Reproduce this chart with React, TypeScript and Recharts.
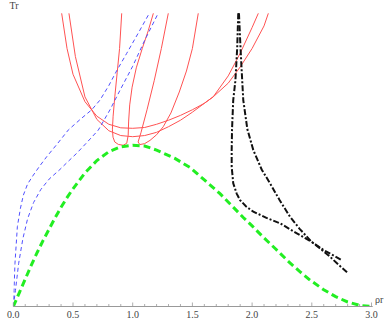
import React from 'react';
import { LineChart, Line, XAxis, YAxis } from 'recharts';

const xTicks = [0, 0.1, 0.2, 0.3, 0.4, 0.5, 0.6, 0.7, 0.8, 0.9, 1.0, 1.1, 1.2, 1.3, 1.4, 1.5, 1.6, 1.7, 1.8, 1.9, 2.0, 2.1, 2.2, 2.3, 2.4, 2.5, 2.6, 2.7, 2.8, 2.9, 3.0];
const yTicks = [0, 0.1, 0.2, 0.3, 0.4, 0.5, 0.6, 0.7, 0.8, 0.9, 1.0, 1.1, 1.2, 1.3, 1.4, 1.5, 1.6, 1.7, 1.8];
const majorTicks = [0, 0.5, 1.0, 1.5, 2.0, 2.5, 3.0];

const green = [
  { x: 0, y: 0 }, { x: 0.05, y: 0.085 }, { x: 0.1, y: 0.17 }, { x: 0.15, y: 0.255 }, { x: 0.2, y: 0.335 },
  { x: 0.25, y: 0.41 }, { x: 0.3, y: 0.48 }, { x: 0.35, y: 0.55 }, { x: 0.4, y: 0.615 }, { x: 0.45, y: 0.675 },
  { x: 0.5, y: 0.73 }, { x: 0.6, y: 0.828 }, { x: 0.7, y: 0.905 }, { x: 0.8, y: 0.96 }, { x: 0.9, y: 0.99 },
  { x: 1.0, y: 1.0 }, { x: 1.1, y: 0.995 }, { x: 1.2, y: 0.97 }, { x: 1.35, y: 0.92 }, { x: 1.48, y: 0.862 },
  { x: 1.6, y: 0.785 }, { x: 1.731, y: 0.7 }, { x: 1.85, y: 0.61 }, { x: 1.926, y: 0.552 }, { x: 2.0, y: 0.5 },
  { x: 2.1, y: 0.425 }, { x: 2.2, y: 0.355 }, { x: 2.3, y: 0.282 }, { x: 2.4, y: 0.216 }, { x: 2.485, y: 0.164 },
  { x: 2.6, y: 0.104 }, { x: 2.7, y: 0.061 }, { x: 2.8, y: 0.028 }, { x: 2.9, y: 0.007 }, { x: 3.0, y: 0 },
];

const blueUpper = [
  { x: 0, y: 0 }, { x: 0.006, y: 0.1 }, { x: 0.014, y: 0.268 }, { x: 0.034, y: 0.495 }, { x: 0.06, y: 0.61 },
  { x: 0.084, y: 0.69 }, { x: 0.12, y: 0.76 }, { x: 0.168, y: 0.815 }, { x: 0.22, y: 0.87 }, { x: 0.28, y: 0.929 },
  { x: 0.37, y: 1.01 }, { x: 0.46, y: 1.094 }, { x: 0.56, y: 1.16 }, { x: 0.657, y: 1.22 }, { x: 0.726, y: 1.28 },
  { x: 0.8, y: 1.37 }, { x: 0.866, y: 1.462 }, { x: 0.95, y: 1.57 }, { x: 1.05, y: 1.7 }, { x: 1.139, y: 1.818 },
];

const blueLower = [
  { x: 0, y: 0 }, { x: 0.018, y: 0.1 }, { x: 0.045, y: 0.268 }, { x: 0.08, y: 0.42 }, { x: 0.12, y: 0.545 },
  { x: 0.17, y: 0.645 }, { x: 0.23, y: 0.725 }, { x: 0.3, y: 0.79 }, { x: 0.391, y: 0.85 }, { x: 0.46, y: 0.9 },
  { x: 0.531, y: 0.95 }, { x: 0.62, y: 1.02 }, { x: 0.712, y: 1.094 }, { x: 0.81, y: 1.22 }, { x: 0.9, y: 1.35 },
  { x: 1.0, y: 1.49 }, { x: 1.1, y: 1.65 }, { x: 1.206, y: 1.807 },
];

const redWideLow = [
  { x: 0.466, y: 1.818 }, { x: 0.52, y: 1.55 }, { x: 0.6, y: 1.3 }, { x: 0.7, y: 1.16 }, { x: 0.8, y: 1.09 },
  { x: 0.9, y: 1.06 }, { x: 1.0, y: 1.053 }, { x: 1.1, y: 1.06 }, { x: 1.2, y: 1.08 }, { x: 1.3, y: 1.115 },
  { x: 1.4, y: 1.155 }, { x: 1.5, y: 1.205 }, { x: 1.6, y: 1.26 }, { x: 1.674, y: 1.3 }, { x: 1.8, y: 1.43 },
  { x: 1.9, y: 1.57 }, { x: 2.0, y: 1.73 }, { x: 2.052, y: 1.818 },
];

const redWideHigh = [
  { x: 0.405, y: 1.818 }, { x: 0.45, y: 1.6 }, { x: 0.5, y: 1.44 }, { x: 0.6, y: 1.27 }, { x: 0.7, y: 1.18 },
  { x: 0.8, y: 1.13 }, { x: 0.9, y: 1.108 }, { x: 1.0, y: 1.105 }, { x: 1.1, y: 1.11 }, { x: 1.2, y: 1.13 },
  { x: 1.3, y: 1.155 }, { x: 1.4, y: 1.185 }, { x: 1.5, y: 1.22 }, { x: 1.6, y: 1.26 }, { x: 1.674, y: 1.3 },
  { x: 1.8, y: 1.385 }, { x: 1.9, y: 1.485 }, { x: 2.0, y: 1.6 }, { x: 2.1, y: 1.74 }, { x: 2.136, y: 1.818 },
];

const redNarrow1 = [
  { x: 0.908, y: 1.818 }, { x: 0.89, y: 1.6 }, { x: 0.87, y: 1.45 }, { x: 0.85, y: 1.3 }, { x: 0.836, y: 1.18 },
  { x: 0.83, y: 1.1 }, { x: 0.835, y: 1.05 }, { x: 0.85, y: 1.02 }, { x: 0.88, y: 1.005 }, { x: 0.92, y: 1.0 },
  { x: 0.95, y: 1.012 }, { x: 0.962, y: 1.06 }, { x: 0.966, y: 1.15 }, { x: 0.975, y: 1.25 }, { x: 0.995, y: 1.36 },
  { x: 1.03, y: 1.48 }, { x: 1.08, y: 1.6 }, { x: 1.13, y: 1.71 }, { x: 1.173, y: 1.818 },
];

const redNarrow2 = [
  { x: 1.298, y: 1.818 }, { x: 1.24, y: 1.6 }, { x: 1.18, y: 1.4 }, { x: 1.12, y: 1.22 }, { x: 1.07, y: 1.08 },
  { x: 1.045, y: 1.02 }, { x: 1.06, y: 1.004 }, { x: 1.1, y: 1.01 }, { x: 1.145, y: 1.03 }, { x: 1.2, y: 1.065 },
  { x: 1.256, y: 1.115 }, { x: 1.32, y: 1.2 }, { x: 1.39, y: 1.33 }, { x: 1.45, y: 1.46 }, { x: 1.5, y: 1.6 },
  { x: 1.549, y: 1.818 },
];

const blackLeft = [
  { x: 1.884, y: 1.818 }, { x: 1.875, y: 1.6 }, { x: 1.86, y: 1.4 }, { x: 1.842, y: 1.28 }, { x: 1.832, y: 1.1 },
  { x: 1.829, y: 0.97 }, { x: 1.829, y: 0.867 }, { x: 1.842, y: 0.764 }, { x: 1.871, y: 0.7 }, { x: 1.899, y: 0.66 },
  { x: 1.95, y: 0.62 }, { x: 2.01, y: 0.588 }, { x: 2.12, y: 0.55 }, { x: 2.234, y: 0.516 }, { x: 2.36, y: 0.46 },
  { x: 2.5, y: 0.4 }, { x: 2.6, y: 0.35 }, { x: 2.75, y: 0.288 },
];

const blackRight = [
  { x: 1.89, y: 1.818 }, { x: 1.9, y: 1.65 }, { x: 1.91, y: 1.5 }, { x: 1.926, y: 1.28 }, { x: 1.96, y: 1.1 },
  { x: 2.01, y: 0.97 }, { x: 2.08, y: 0.85 }, { x: 2.15, y: 0.764 }, { x: 2.23, y: 0.66 }, { x: 2.317, y: 0.557 },
  { x: 2.4, y: 0.48 }, { x: 2.5, y: 0.4 }, { x: 2.57, y: 0.36 }, { x: 2.652, y: 0.309 }, { x: 2.73, y: 0.255 },
  { x: 2.806, y: 0.206 },
];

const FONT = '"Liberation Serif", "Times New Roman", serif';

const isMajor = (v: number) => majorTicks.some((m) => Math.abs(m - v) < 1e-6);

const XTick = (props: any) => {
  const { x, y, payload } = props;
  const v = payload.value;
  const major = isMajor(v);
  return (
    <g>
      <line x1={x} y1={y} x2={x} y2={y - (major ? 4 : 2.5)} stroke="#999" strokeWidth={0.8} />
      {major && (
        <text x={x} y={y + 11} textAnchor="middle" fontSize={10} fontFamily={FONT} fill="#444">
          {v.toFixed(1)}
        </text>
      )}
    </g>
  );
};

const YTick = (props: any) => {
  const { x, y, payload } = props;
  const v = payload.value;
  const major = isMajor(v);
  return (
    <g>
      <line x1={x} y1={y} x2={x + (major ? 4 : 2.5)} y2={y} stroke="#999" strokeWidth={0.8} />
      {major && (
        <text x={x - 2.5} y={y + 3.5} textAnchor="end" fontSize={10} fontFamily={FONT} fill="#444">
          {v.toFixed(1)}
        </text>
      )}
    </g>
  );
};

const redStyle = { stroke: '#ff5252', strokeWidth: 1 };

export default function App() {
  return (
    <div style={{ position: 'absolute', left: 0, top: 0 }}>
      <LineChart width={388} height={319} margin={{ top: 13, right: 15.3, bottom: 0, left: 13.3 }}>
        <XAxis
          type="number"
          dataKey="x"
          domain={[0, 3.01]}
          ticks={xTicks}
          interval={0}
          allowDataOverflow
          height={12.5}
          tickSize={0}
          tickMargin={0}
          tickLine={false}
          tick={<XTick />}
          stroke="#999"
        />
        <YAxis
          type="number"
          domain={[0, 1.82]}
          ticks={yTicks}
          interval={0}
          allowDataOverflow
          width={0}
          tickSize={0}
          tickMargin={0}
          tickLine={false}
          tick={<YTick />}
          stroke="#999"
        />
        <Line data={redWideLow} dataKey="y" type="linear" dot={false} isAnimationActive={false} {...redStyle} />
        <Line data={redWideHigh} dataKey="y" type="linear" dot={false} isAnimationActive={false} {...redStyle} />
        <Line data={redNarrow1} dataKey="y" type="linear" dot={false} isAnimationActive={false} {...redStyle} />
        <Line data={redNarrow2} dataKey="y" type="linear" dot={false} isAnimationActive={false} {...redStyle} />
        <Line data={blueUpper} dataKey="y" type="linear" dot={false} isAnimationActive={false} stroke="#5050ff" strokeWidth={1} strokeDasharray="4 3" />
        <Line data={blueLower} dataKey="y" type="linear" dot={false} isAnimationActive={false} stroke="#5050ff" strokeWidth={1} strokeDasharray="4 3" />
        <Line data={green} dataKey="y" type="linear" dot={false} isAnimationActive={false} stroke="#22ee22" strokeWidth={3} strokeDasharray="7 4" />
        <Line data={blackLeft} dataKey="y" type="linear" dot={false} isAnimationActive={false} stroke="#111" strokeWidth={2} strokeDasharray="6 2 2 2" />
        <Line data={blackRight} dataKey="y" type="linear" dot={false} isAnimationActive={false} stroke="#111" strokeWidth={2} strokeDasharray="6 2 2 2" />
        <text x={14} y={9} textAnchor="middle" fontSize={10} fontFamily={FONT} fill="#444">Tr</text>
        <text x={375} y={303} textAnchor="start" fontSize={10} fontFamily={FONT} fill="#444">ρr</text>
      </LineChart>
    </div>
  );
}
